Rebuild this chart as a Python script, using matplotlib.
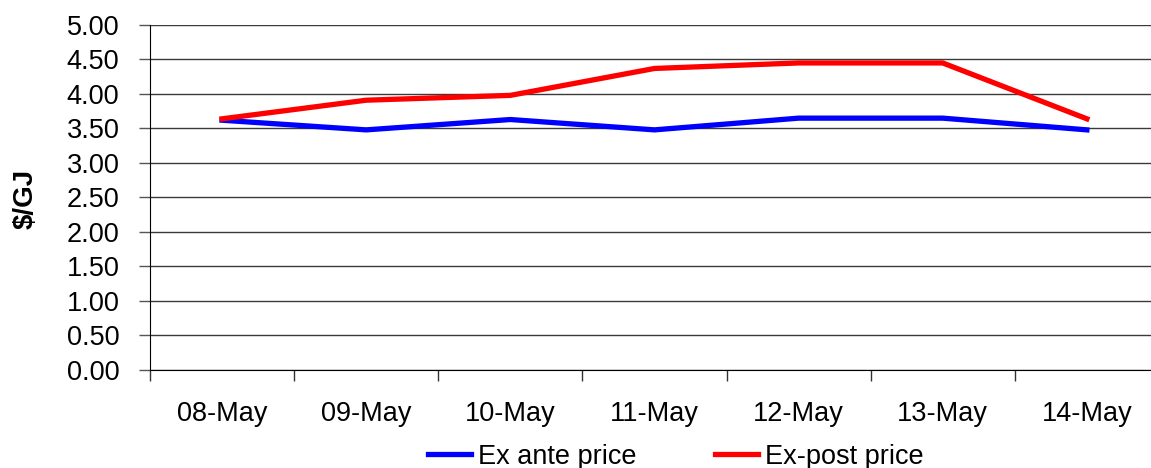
import numpy as np
import matplotlib.pyplot as plt

plt.rcParams['font.family'] = ['Liberation Sans', 'DejaVu Sans']

days = ['08-May', '09-May', '10-May', '11-May', '12-May', '13-May', '14-May']
ex_ante = [3.62, 3.48, 3.63, 3.48, 3.65, 3.65, 3.48]
ex_post = [3.64, 3.91, 3.98, 4.37, 4.45, 4.45, 3.64]
y_ticks = np.arange(0, 5.01, 0.5)

fig = plt.figure(figsize=(11.51, 4.68), dpi=100)
ax = fig.add_axes([0.1303, 0.2094, 0.8766, 0.7372])

x = np.arange(len(days))
ax.plot(x, ex_ante, color='#0000ff', lw=3.8, label='Ex ante price', solid_joinstyle='round')
ax.plot(x, ex_post, color='#ff0000', lw=3.8, label='Ex-post price', solid_joinstyle='round')

ax.set_xlim(-0.5, len(days) - 0.5)
ax.set_ylim(0, 5)
ax.set_yticks(y_ticks)
ax.set_yticklabels([f'{v:.2f}' for v in y_ticks])
ax.yaxis.grid(True, color='#3a3a3a', lw=1.0)
ax.set_axisbelow(True)

# labels sit at the category centres, tick marks at the boundaries
ax.set_xticks(x)
ax.set_xticklabels(days)
ax.set_xticks(np.arange(-0.5, len(days) + 0.5), minor=True)
ax.tick_params(axis='x', which='major', length=0, pad=22, labelsize=19.5)
ax.tick_params(axis='x', which='minor', length=8, width=1, color='#333333')
ax.tick_params(axis='y', length=8, width=1, color='#555555', pad=14, labelsize=19.5)

for side in ['top', 'right']:
    ax.spines[side].set_visible(False)
ax.spines['left'].set_color('black')
ax.spines['bottom'].set_color('black')

fig.text(0.022, 0.575, '$/GJ', rotation=90, fontsize=20, fontweight='bold',
         ha='center', va='center')

fig.legend(loc='center', bbox_to_anchor=(0.587, 0.024), ncol=2, frameon=False,
           fontsize=19.5, handlelength=1.6, handletextpad=0.25, columnspacing=2.9)

fig.savefig('out.png', dpi=100)
